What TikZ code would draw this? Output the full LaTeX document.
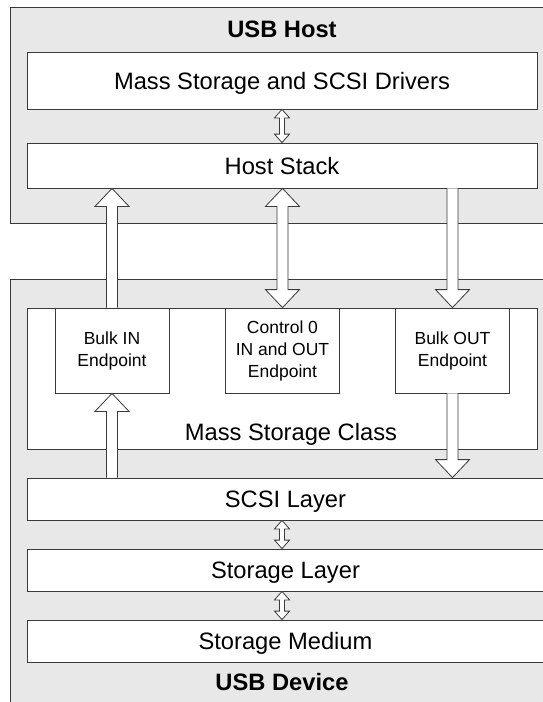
\documentclass[tikz,border=0pt]{standalone}
\usepackage{fontspec}
\setmainfont{Liberation Sans}
\usetikzlibrary{calc}
\definecolor{PanelGray}{RGB}{232,232,232}
\definecolor{EdgeGray}{RGB}{58,58,58}

\newcommand{\bigtips}{\def\shaftw{5.5pt}\def\headw{17pt}\def\headl{18pt}}
\newcommand{\smalltips}{\def\shaftw{2.5pt}\def\headw{7.5pt}\def\headl{8.5pt}}
\newcommand{\arrowup}[2]{%
  \draw[blockarrow] let \p1=(#1), \p2=(#2) in
    (\x1-\shaftw,\y1) -- (\x1-\shaftw,\y2-\headl) -- (\x1-\headw,\y2-\headl)
    -- (\x1,\y2) -- (\x1+\headw,\y2-\headl) -- (\x1+\shaftw,\y2-\headl)
    -- (\x1+\shaftw,\y1);}
\newcommand{\arrowdown}[2]{%
  \draw[blockarrow] let \p1=(#1), \p2=(#2) in
    (\x1-\shaftw,\y1) -- (\x1-\shaftw,\y2+\headl) -- (\x1-\headw,\y2+\headl)
    -- (\x1,\y2) -- (\x1+\headw,\y2+\headl) -- (\x1+\shaftw,\y2+\headl)
    -- (\x1+\shaftw,\y1);}
\newcommand{\arrowboth}[2]{%
  \draw[blockarrow] let \p1=(#1), \p2=(#2) in
    (\x1,\y1) -- (\x1+\headw,\y1-\headl) -- (\x1+\shaftw,\y1-\headl)
    -- (\x1+\shaftw,\y2+\headl) -- (\x1+\headw,\y2+\headl) -- (\x1,\y2)
    -- (\x1-\headw,\y2+\headl) -- (\x1-\shaftw,\y2+\headl)
    -- (\x1-\shaftw,\y1-\headl) -- (\x1-\headw,\y1-\headl) -- cycle;}

\begin{document}
\begin{tikzpicture}[x=1pt,y=-1pt,
        container/.style={draw=EdgeGray,fill=PanelGray,line width=0.8pt,
          minimum width=560pt,inner sep=0pt,anchor=north west},
        layer/.style={draw=EdgeGray,fill=white,line width=0.8pt,
          minimum width=510pt,inner sep=0pt,
          font=\fontsize{23.7}{28}\selectfont,text height=17pt,text depth=0pt},
        widelayer/.style={layer,minimum width=517pt,minimum height=42pt},
        endpoint/.style={draw=EdgeGray,fill=white,line width=0.8pt,
          minimum width=114pt,minimum height=85pt,inner sep=0pt,align=center,
          font=\fontsize{17.5}{22}\selectfont},
        heading/.style={font=\fontsize{23.7}{28}\selectfont\bfseries,
          inner sep=0pt,anchor=base},
        caption/.style={font=\fontsize{23.7}{28}\selectfont,
          inner sep=0pt,anchor=base},
        blockarrow/.style={draw=EdgeGray,fill=white,line width=0.8pt,
          line join=miter}
      ]
        \clip (0,0) rectangle (543,702);
        \fill[white] (0,0) rectangle (543,702);

        \node[container,minimum height=216pt] (host) at (10,7) {};
        \node[container,minimum height=440pt] (device) at (10,279) {};
        \node[heading] (hostlabel) at (282,37) {USB Host};
        \node[heading] (devicelabel) at (282,690) {USB Device};

        \node[layer,minimum height=57pt] (drivers) at (282,80.5)
          {Mass Storage and SCSI Drivers};
        \node[layer,minimum height=45pt] (hoststack) at (282,165.5)
          {Host Stack};

        \node[layer,minimum height=141pt] (msc) at (282,378.5) {};
        \node[caption] (msclabel) at (291,440) {Mass Storage Class};
        \node[endpoint] (bulkin) at (112,350.5) {Bulk IN\\Endpoint};
        \node[endpoint] (ctrl) at (282.5,350.5)
          {Control 0\\IN and OUT\\Endpoint};
        \node[endpoint] (bulkout) at (452.5,350.5) {Bulk OUT\\Endpoint};

        \node[widelayer] (scsi) at (285.5,499) {SCSI Layer};
        \node[widelayer] (storage) at (285.5,570) {Storage Layer};
        \node[widelayer] (medium) at (285.5,641) {Storage Medium};

        \bigtips
        \arrowup{bulkin.north}{bulkin.north |- hoststack.south}
        \arrowboth{ctrl.north |- hoststack.south}{ctrl.north}
        \arrowdown{bulkout.north |- hoststack.south}{bulkout.north}
        \arrowup{bulkin.south |- scsi.north}{bulkin.south}
        \arrowdown{bulkout.south}{bulkout.south |- scsi.north}

        \smalltips
        \arrowboth{drivers.south}{hoststack.north}
        \arrowboth{drivers.south |- scsi.south}{drivers.south |- storage.north}
        \arrowboth{drivers.south |- storage.south}{drivers.south |- medium.north}
      \end{tikzpicture}
\end{document}
